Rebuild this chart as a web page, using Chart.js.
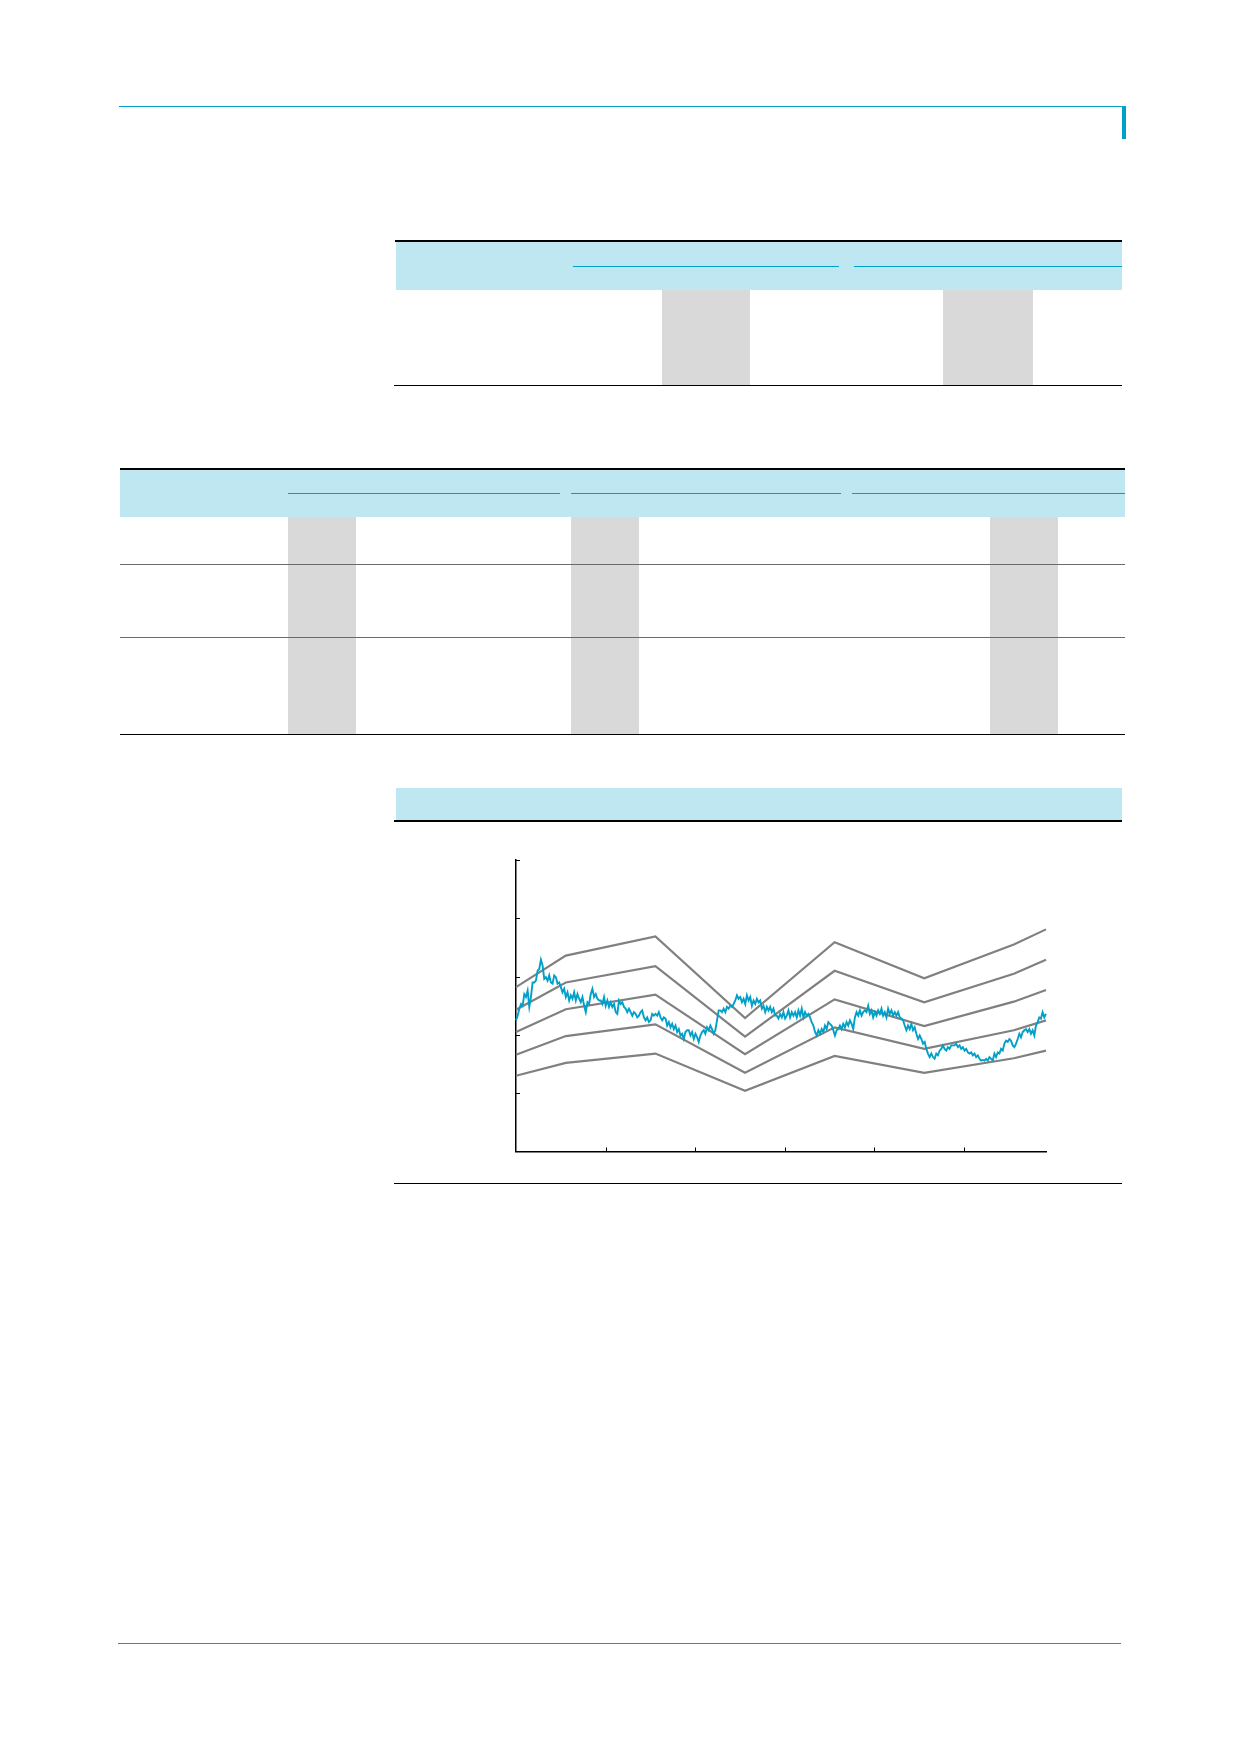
<!DOCTYPE html>
<html>
<head>
<meta charset="utf-8">
<script src="https://cdn.jsdelivr.net/npm/chart.js@4.4.1/dist/chart.umd.min.js"></script>
<style>
html,body{margin:0;padding:0;background:#ffffff;}
body{width:1240px;height:1754px;position:relative;overflow:hidden;font-family:"Noto Sans",sans-serif;}
.r{position:absolute;}
.blue{background:#00a0c8;}
.band{background:#bfe7f1;}
.gray{background:#d9d9d9;}
.blk{background:#000000;}
.sep{background:#6a6a6a;}
</style>
</head>
<body>
<!-- page header rule -->
<div class="r blue" style="left:119px;top:106px;width:1007px;height:1px;"></div>
<div class="r blue" style="left:1122px;top:106px;width:4px;height:33px;"></div>

<!-- table 1 -->
<div class="r band" style="left:396px;top:241px;width:726px;height:49px;"></div>
<div class="r blk" style="left:395px;top:240px;width:727px;height:1.5px;"></div>
<div class="r blue" style="left:573px;top:266px;width:266px;height:1px;"></div>
<div class="r blue" style="left:854px;top:266px;width:268px;height:1px;"></div>
<div class="r gray" style="left:662px;top:290px;width:88px;height:95px;"></div>
<div class="r gray" style="left:943px;top:290px;width:90px;height:95px;"></div>
<div class="r blk" style="left:394px;top:384.5px;width:728px;height:1.5px;"></div>

<!-- table 2 -->
<div class="r band" style="left:120px;top:469px;width:1005px;height:48px;"></div>
<div class="r blk" style="left:120px;top:468px;width:1005px;height:1.5px;"></div>
<div class="r blue" style="left:288px;top:493px;width:272px;height:1px;"></div>
<div class="r blue" style="left:571px;top:493px;width:270px;height:1px;"></div>
<div class="r blue" style="left:852px;top:493px;width:273px;height:1px;"></div>
<div class="r gray" style="left:288px;top:517px;width:68px;height:217px;"></div>
<div class="r gray" style="left:571px;top:517px;width:68px;height:217px;"></div>
<div class="r gray" style="left:990px;top:517px;width:68px;height:217px;"></div>
<div class="r sep" style="left:120px;top:564px;width:1005px;height:1px;"></div>
<div class="r sep" style="left:120px;top:637px;width:1005px;height:1px;"></div>
<div class="r blk" style="left:120px;top:733.5px;width:1005px;height:1.5px;"></div>

<!-- chart section -->
<div class="r band" style="left:396px;top:788px;width:726px;height:32px;"></div>
<div class="r blk" style="left:394px;top:820px;width:728px;height:1.5px;"></div>
<div class="r blk" style="left:394px;top:1182.5px;width:728px;height:1.5px;"></div>
<div class="r" style="left:500px;top:850px;width:560px;height:310px;">
  <canvas id="c" width="560" height="310"></canvas>
</div>

<!-- page footer rule -->
<div class="r blue" style="left:118px;top:1643px;width:1003px;height:1px;"></div>

<script>
// x axis: years from start; y axis: price units
const xTicks = [1, 2, 3, 4, 5];
const yTicks = [10, 20, 30, 40, 50];
const xMax = 5.915;
const yMax = 50;

// band lines (multiples), vertices
const bandX = [0, 0.556, 1.556, 2.556, 3.556, 4.556, 5.556, 5.915];
const band1 = [28.2, 33.6, 36.9, 22.9, 35.9, 29.7, 35.5, 38.1];
const band2 = [24.3, 29.0, 31.8, 19.7, 31.0, 25.6, 30.5, 32.9];
const band3 = [20.5, 24.4, 26.9, 16.7, 26.1, 21.5, 25.7, 27.7];
const band4 = [16.6, 19.8, 21.8, 13.5, 21.3, 17.6, 20.8, 22.5];
const band5 = [13.0, 15.2, 16.8, 10.4, 16.4, 13.5, 16.0, 17.3];

// price series (evenly spaced)
const priceStep = 0.01854;
const priceValues = [
22.5,23.3,24.5,25.3,25.0,27.0,26.5,27.6,24.8,26.5,29.0,29.0,29.3,31.0,31.3,32.9,31.9,29.6,29.9,29.3,
30.2,29.0,28.8,30.2,29.9,28.8,29.0,28.2,27.3,27.9,26.5,27.3,25.9,26.8,26.2,27.3,25.9,27.0,26.2,25.6,
26.5,25.0,23.9,25.6,25.3,27.0,27.9,26.5,27.0,26.2,25.9,
25.9,25.3,26.5,25.0,25.9,24.8,25.6,24.8,25.3,23.9,23.6,25.9,25.3,25.6,24.8,24.5,23.9,24.5,23.9,23.3,
23.9,23.6,23.0,23.3,23.9,24.2,23.0,22.5,23.0,22.2,22.5,23.6,23.3,23.6,23.3,23.9,23.0,22.5,23.0,22.8,
21.6,22.2,21.3,21.9,21.0,21.6,20.5,21.0,19.9,20.2,19.3,20.5,20.8,
20.8,19.9,20.5,19.3,20.2,19.6,18.8,19.9,20.5,20.8,20.2,21.3,20.8,21.6,21.0,20.2,20.8,22.5,24.2,24.2,
23.9,24.5,23.9,24.8,24.5,25.0,24.8,25.3,25.9,26.8,26.2,26.5,25.6,26.2,25.3,26.8,25.9,26.5,25.0,25.9,
25.3,26.2,25.6,25.9,24.5,25.0,23.9,24.8,24.2,24.8,23.9,24.5,23.3,
23.3,22.8,23.6,23.0,23.9,22.8,23.3,24.2,23.0,23.9,23.3,23.9,23.0,24.2,23.3,24.5,23.0,23.9,23.3,23.6,
23.0,22.2,21.6,20.5,19.9,20.8,20.2,21.0,20.5,21.6,21.0,22.2,21.9,21.6,20.8,19.9,20.8,21.0,21.6,21.0,
21.9,21.3,22.2,21.6,22.5,21.9,21.0,23.0,23.9,23.3,24.2,23.3,23.9,
24.2,23.9,25.0,23.6,24.2,23.0,23.9,23.3,24.2,23.6,24.5,23.3,23.9,23.0,24.5,23.6,24.2,23.3,23.9,23.3,
23.9,23.0,22.8,22.5,21.6,20.8,21.6,21.0,21.9,20.8,21.3,20.2,19.3,19.9,19.3,18.5,18.8,17.6,16.8,16.2,
16.8,16.2,15.9,16.8,16.5,17.3,17.6,18.2,17.6,17.3,17.9,17.6,18.2,
18.2,18.2,18.5,17.9,18.2,17.6,17.9,17.3,17.6,17.0,16.8,17.0,16.5,16.8,16.2,16.5,15.9,15.6,15.7,15.6,
15.9,15.6,16.2,15.9,15.6,16.8,16.2,17.0,16.8,17.6,17.3,18.5,19.0,18.8,19.3,19.0,18.2,17.9,18.5,19.3,
20.2,19.6,20.5,20.8,21.0,20.5,21.0,20.2,20.8,19.9,21.6,22.2,23.0,22.8,23.9,23.0,23.6
];

const BLUE = '#00a0c8';
const GRAY = '#808080';

const pricePoints = priceValues.map((v, i) => ({x: i * priceStep, y: v}));
const toPts = arr => arr.map((v, i) => ({x: bandX[i], y: v}));

const lineDs = (data, color, w) => ({
  data, borderColor: color, borderWidth: w, pointRadius: 0, tension: 0,
  fill: false, clip: 3
});

const innerTicks = {
  id: 'innerTicks',
  afterDraw(chart) {
    const {ctx, scales: {x, y}, chartArea: a} = chart;
    ctx.save();
    ctx.strokeStyle = '#000';
    ctx.lineWidth = 1;
    xTicks.forEach(v => {
      const px = Math.round(x.getPixelForValue(v)) + 0.5;
      ctx.beginPath(); ctx.moveTo(px, a.bottom); ctx.lineTo(px, a.bottom - 4); ctx.stroke();
    });
    yTicks.forEach(v => {
      const py = Math.round(y.getPixelForValue(v)) + 0.5;
      ctx.beginPath(); ctx.moveTo(a.left, py); ctx.lineTo(a.left + 4, py); ctx.stroke();
    });
    ctx.restore();
  }
};

new Chart(document.getElementById('c'), {
  type: 'line',
  data: {
    datasets: [
      lineDs(pricePoints, BLUE, 1.9),
      lineDs(toPts(band1), GRAY, 2.2),
      lineDs(toPts(band2), GRAY, 2.2),
      lineDs(toPts(band3), GRAY, 2.2),
      lineDs(toPts(band4), GRAY, 2.2),
      lineDs(toPts(band5), GRAY, 2.2)
    ]
  },
  options: {
    responsive: false,
    animation: false,
    devicePixelRatio: 1,
    layout: {padding: {left: 16, top: 10, right: 14, bottom: 8.5}},
    plugins: {legend: {display: false}, tooltip: {enabled: false}},
    scales: {
      x: {
        type: 'linear', min: 0, max: xMax,
        grid: {display: false, drawTicks: false},
        ticks: {display: false, stepSize: 1},
        border: {display: true, color: '#000', width: 1.5}
      },
      y: {
        type: 'linear', min: 0, max: yMax,
        grid: {display: false, drawTicks: false},
        ticks: {display: false, stepSize: 10},
        border: {display: true, color: '#000', width: 1.5}
      }
    }
  },
  plugins: [innerTicks]
});
</script>
</body>
</html>
